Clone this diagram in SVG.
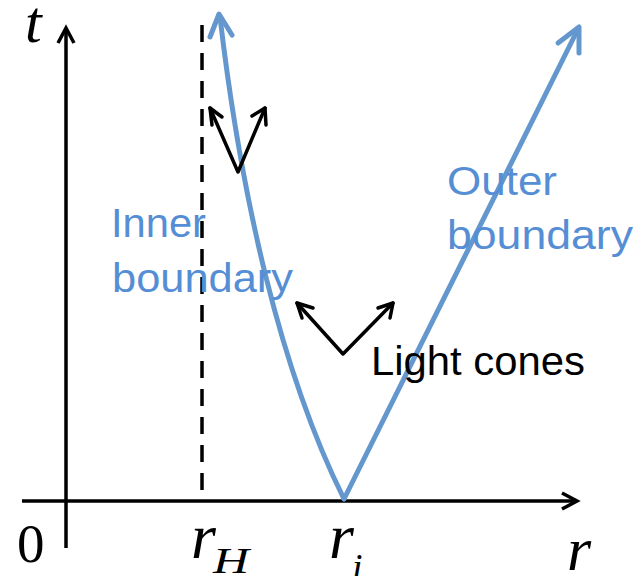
<svg xmlns="http://www.w3.org/2000/svg" width="637" height="576" viewBox="0 0 637 576">
<style>
.ax{fill:none;stroke:#000;stroke-width:3.5;stroke-linecap:butt;stroke-linejoin:miter}
.cone{fill:none;stroke:#000;stroke-width:3.5;stroke-linecap:round;stroke-linejoin:round}
.blue{fill:none;stroke:#6397CD;stroke-width:5;stroke-linecap:round;stroke-linejoin:round}
.var{font-family:"Liberation Serif","Times New Roman",serif;font-style:italic;fill:#000}
.num{font-family:"Liberation Serif","Times New Roman",serif;fill:#000}
.lbl{font-family:"Liberation Sans",Arial,sans-serif;font-size:40px}
.bl{fill:#558ED5}
</style>
<rect width="637" height="576" fill="#fff"/>
<g id="axes">
  <line class="ax" x1="66" y1="548" x2="66" y2="30"/>
  <polyline class="ax" points="58,43 66,28 74,43"/>
  <line class="ax" x1="22" y1="501" x2="576" y2="501"/>
  <polyline class="ax" points="562,493 577,501 562,509"/>
  <text class="var" x="25" y="42" font-size="60">t</text>
  <text class="num" x="17" y="562" font-size="55">0</text>
  <text class="var" x="567" y="570" font-size="62">r</text>
</g>
<g id="horizon">
  <line x1="202" y1="25" x2="202" y2="490" stroke="#000" stroke-width="3.5" stroke-dasharray="17 11"/>
  <text class="var" x="191" y="558" font-size="64">r</text>
  <text class="var" x="213" y="573" font-size="36" textLength="36" lengthAdjust="spacingAndGlyphs">H</text>
</g>
<g id="connectors">
  <g id="inner-boundary">
    <path class="blue" d="M344,499 C280,370 241,196 220,17"/>
    <polyline class="blue" points="210,37 219,14 232,35"/>
  </g>
  <g id="outer-boundary">
    <line class="blue" x1="344" y1="499" x2="578" y2="29"/>
    <polyline class="blue" points="558,43 579,27 579,53"/>
  </g>
  <g id="light-cone-upper">
    <polyline class="cone" points="210,108 238,172 265,108"/>
    <polyline class="cone" points="212,125 210,108 222,117"/>
    <polyline class="cone" points="252,116 265,108 266,125"/>
  </g>
  <g id="light-cone-lower">
    <polyline class="cone" points="297,303 343,354 393,303"/>
    <polyline class="cone" points="302,318 297,303 313,308"/>
    <polyline class="cone" points="378,308 393,303 390,318"/>
  </g>
</g>
<g id="ri-label">
  <text class="var" x="329" y="558" font-size="64">r</text>
  <text class="var" x="352" y="580" font-size="38">i</text>
</g>
<g id="inner-label">
  <text class="lbl bl" x="111" y="237" textLength="95" lengthAdjust="spacingAndGlyphs">Inner</text>
  <text class="lbl bl" x="112" y="292" textLength="181" lengthAdjust="spacingAndGlyphs">boundary</text>
</g>
<g id="outer-label">
  <text class="lbl bl" x="447" y="195" textLength="110" lengthAdjust="spacingAndGlyphs">Outer</text>
  <text class="lbl bl" x="447" y="249" textLength="186" lengthAdjust="spacingAndGlyphs">boundary</text>
</g>
<g id="light-cones-label">
  <text class="lbl" x="371" y="375" fill="#000" textLength="214" lengthAdjust="spacingAndGlyphs">Light cones</text>
</g>
</svg>
